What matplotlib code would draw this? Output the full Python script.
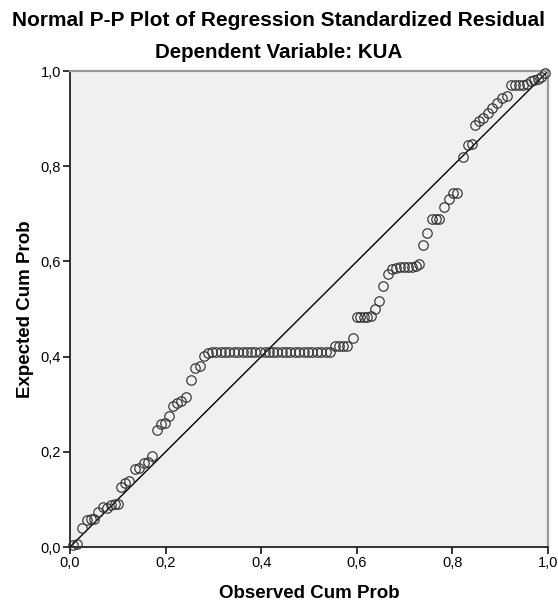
import matplotlib
matplotlib.use("Agg")
import matplotlib.pyplot as plt
from matplotlib.ticker import FixedLocator, FuncFormatter

plt.rcParams['font.family'] = ['Liberation Sans', 'DejaVu Sans']

# Observed cumulative probability of each standardized residual
observed = [
    0.006, 0.015, 0.025, 0.036, 0.044, 0.050, 0.059, 0.069, 0.077, 0.086,
    0.094, 0.100, 0.107, 0.115, 0.123, 0.136, 0.144, 0.155, 0.163, 0.172,
    0.182, 0.190, 0.199, 0.207, 0.215, 0.224, 0.232, 0.243, 0.253, 0.262,
    0.272, 0.280, 0.289,
    0.297, 0.306, 0.315, 0.324, 0.333, 0.343, 0.352, 0.361, 0.370, 0.379,
    0.388, 0.397, 0.407, 0.416, 0.425, 0.434, 0.443, 0.452, 0.461, 0.471,
    0.480, 0.489, 0.498, 0.507, 0.516, 0.525, 0.535, 0.544,
    0.554, 0.563, 0.571, 0.579, 0.592, 0.600, 0.607, 0.615, 0.621, 0.630,
    0.638, 0.646, 0.655, 0.665, 0.674, 0.682, 0.690, 0.699, 0.707, 0.715,
    0.724, 0.730, 0.738, 0.747, 0.757, 0.766, 0.772, 0.782, 0.793, 0.801,
    0.810, 0.822, 0.833, 0.841, 0.847, 0.856, 0.864, 0.874, 0.883, 0.893,
    0.904, 0.914, 0.923, 0.931, 0.939, 0.948, 0.956, 0.964, 0.971, 0.979,
    0.985, 0.994,
]

# Expected cumulative probability under the normal distribution
expected = [
    0.004, 0.006, 0.040, 0.057, 0.059, 0.059, 0.074, 0.084, 0.082, 0.088,
    0.090, 0.090, 0.126, 0.134, 0.139, 0.164, 0.166, 0.176, 0.179, 0.191,
    0.246, 0.258, 0.261, 0.275, 0.296, 0.303, 0.307, 0.315, 0.351, 0.376,
    0.380, 0.401, 0.408,
    0.410, 0.410, 0.410, 0.410, 0.410, 0.410, 0.410, 0.410, 0.410, 0.410,
    0.410, 0.410, 0.410, 0.410, 0.410, 0.410, 0.410, 0.410, 0.410, 0.410,
    0.410, 0.410, 0.410, 0.410, 0.410, 0.410, 0.410, 0.410,
    0.422, 0.422, 0.422, 0.422, 0.439, 0.483, 0.483, 0.483, 0.483, 0.485,
    0.500, 0.517, 0.548, 0.574, 0.584, 0.586, 0.588, 0.588, 0.588, 0.588,
    0.590, 0.595, 0.634, 0.660, 0.689, 0.689, 0.689, 0.714, 0.731, 0.744,
    0.744, 0.819, 0.845, 0.847, 0.887, 0.895, 0.901, 0.912, 0.922, 0.933,
    0.943, 0.947, 0.971, 0.971, 0.971, 0.971, 0.973, 0.979, 0.981, 0.983,
    0.987, 0.996,
]

ticks = [0.0, 0.2, 0.4, 0.6, 0.8, 1.0]

fig = plt.figure(figsize=(5.58, 6.08), dpi=100)
ax = fig.add_axes([0.1254, 0.1003, 0.8566, 0.7827])
ax.set_facecolor('#F0F0F0')

# Reference diagonal
ax.plot([0, 1], [0, 1], color='black', linewidth=1.0, zorder=2)

ax.plot(observed, expected, linestyle='none', marker='o', markersize=6.8,
        markerfacecolor='none', markeredgecolor='#333333',
        markeredgewidth=0.85, zorder=3, clip_on=False)

ax.set_xlim(0, 1)
ax.set_ylim(0, 1)

fmt = FuncFormatter(lambda v, p: f"{v:.1f}".replace('.', ','))
ax.xaxis.set_major_locator(FixedLocator(ticks))
ax.yaxis.set_major_locator(FixedLocator(ticks))
ax.xaxis.set_major_formatter(fmt)
ax.yaxis.set_major_formatter(fmt)
ax.tick_params(axis='both', direction='out', length=5, width=1.1,
               labelsize=10.5, colors='black', pad=1.5)

for side in ('left', 'bottom'):
    ax.spines[side].set_color('#222222')
    ax.spines[side].set_linewidth(1.3)
for side in ('top', 'right'):
    ax.spines[side].set_color('#9a9a9a')
    ax.spines[side].set_linewidth(1.6)

ax.set_xlabel('Observed Cum Prob', fontsize=13.5, fontweight='bold', labelpad=11)
ax.set_ylabel('Expected Cum Prob', fontsize=13.5, fontweight='bold', labelpad=5)

fig.text(0.5, 0.967, 'Normal P-P Plot of Regression Standardized Residual',
         ha='center', va='center', fontsize=15, fontweight='bold')
fig.text(0.5, 0.913, 'Dependent Variable: KUA',
         ha='center', va='center', fontsize=14.8, fontweight='bold')

fig.savefig('out.png', dpi=100)
